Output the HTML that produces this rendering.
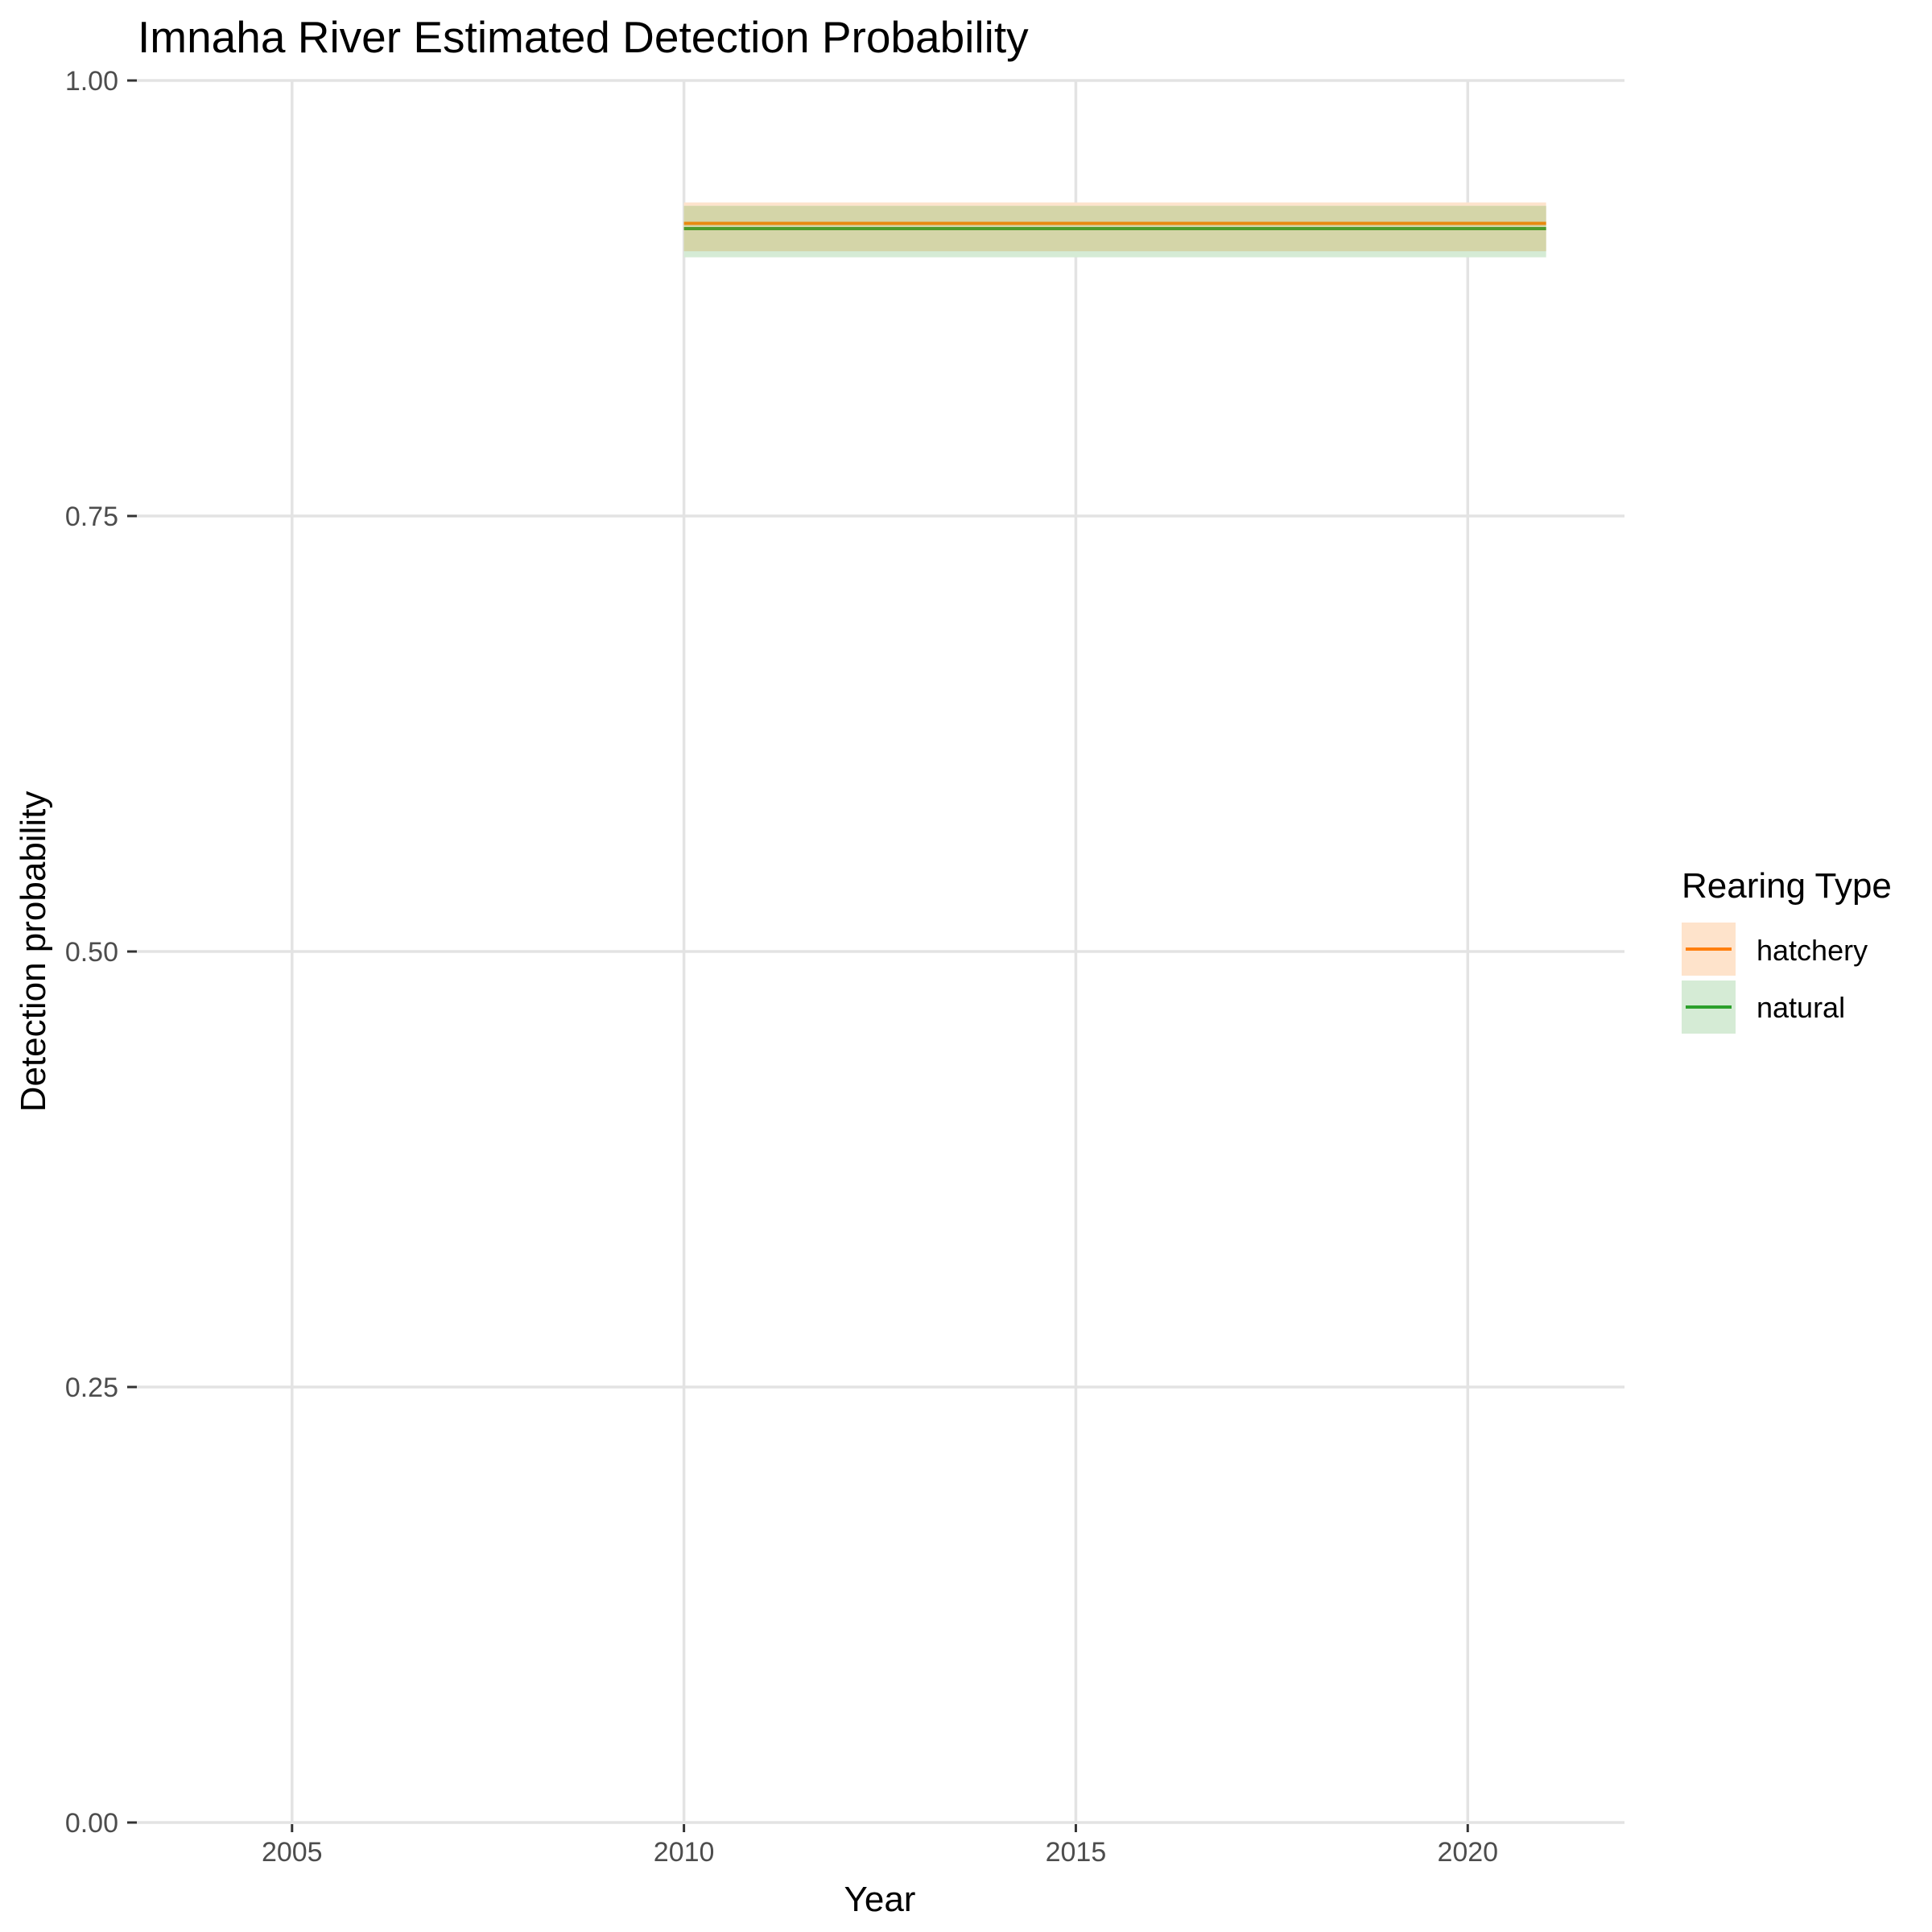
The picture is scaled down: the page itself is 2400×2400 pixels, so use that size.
<!DOCTYPE html>
<html><head><meta charset="utf-8"><style>
html,body{margin:0;padding:0;background:#fff}
svg{display:block;font-family:"Liberation Sans",sans-serif}
</style></head><body>
<svg id="chart" width="2400" height="2400" viewBox="0 0 2400 2400">
<text x="171" y="65" font-size="55" fill="#000">Imnaha River Estimated Detection Probability</text>
<g id="grid"></g>
<g id="bands"></g>
<g id="lines"></g>
<g id="axes"></g>
<text x="1093" y="2374" font-size="44" text-anchor="middle" fill="#000">Year</text>
<text transform="translate(56,1182) rotate(-90)" font-size="44" text-anchor="middle" fill="#000">Detection probability</text>
<g>
<text x="2089" y="1115" font-size="44" fill="#000">Rearing Type</text>
<g>
<rect x="2089" y="1146" width="67" height="66" fill="#fee3cb"/>
<line x1="2094" x2="2151" y1="1179" y2="1179" stroke="#ff7f0e" stroke-width="4"/>
<text x="2182" y="1193" font-size="36" fill="#000">hatchery</text>
</g>
<g>
<rect x="2089" y="1218" width="67" height="66" fill="#d5ebd5"/>
<line x1="2094" x2="2151" y1="1251" y2="1251" stroke="#2ca02c" stroke-width="4"/>
<text x="2182" y="1264" font-size="36" fill="#000">natural</text>
</g>
</g>
</svg>
<script>
const years = [2010,2011,2012,2013,2014,2015,2016,2017,2018,2019,2020,2021];
const hatcheryEst = [0.918,0.918,0.918,0.918,0.918,0.918,0.918,0.918,0.918,0.918,0.918,0.918];
const hatcheryLo = [0.902,0.902,0.902,0.902,0.902,0.902,0.902,0.902,0.902,0.902,0.902,0.902];
const hatcheryHi = [0.930,0.930,0.930,0.930,0.930,0.930,0.930,0.930,0.930,0.930,0.930,0.930];
const naturalEst = [0.915,0.915,0.915,0.915,0.915,0.915,0.915,0.915,0.915,0.915,0.915,0.915];
const naturalLo = [0.8985,0.8985,0.8985,0.8985,0.8985,0.8985,0.8985,0.8985,0.8985,0.8985,0.8985,0.8985];
const naturalHi = [0.928,0.928,0.928,0.928,0.928,0.928,0.928,0.928,0.928,0.928,0.928,0.928];
const xTicks = [2005,2010,2015,2020];
const yTicks = [0,0.25,0.5,0.75,1];
const yTickLabels = ["0.00","0.25","0.50","0.75","1.00"];

const NS="http://www.w3.org/2000/svg";
const L=170,R=2018,T=100,B=2264;
const xMin=2003.02,xMax=2022.0;
function xs(v){return L+(v-xMin)/(xMax-xMin)*(R-L);}
function ys(v){return B-v*(B-T);}
function mk(tag,attrs,parent){const e=document.createElementNS(NS,tag);for(const k in attrs)e.setAttribute(k,attrs[k]);document.getElementById(parent).appendChild(e);return e;}

xTicks.forEach((t,i)=>{
  const g=mk('line',{x1:xs(t),x2:xs(t),y1:T,y2:B,stroke:'#e3e3e3','stroke-width':3.5},'grid');
  
  
  const tk=mk('line',{x1:xs(t),x2:xs(t),y1:B+2,y2:B+12,stroke:'#333','stroke-width':3},'axes');
  
  
  const tx=mk('text',{x:xs(t),y:2312,'font-size':34,'text-anchor':'middle',fill:'#4d4d4d'},'axes');
  tx.textContent=String(t);
  
  
});
yTicks.forEach((t,i)=>{
  const g=mk('line',{x1:L,x2:R,y1:ys(t),y2:ys(t),stroke:'#e3e3e3','stroke-width':3.5},'grid');
  
  
  const tk=mk('line',{x1:158,x2:170,y1:ys(t),y2:ys(t),stroke:'#333','stroke-width':3},'axes');
  
  
  const tx=mk('text',{x:147,y:ys(t)+12,'font-size':34,'text-anchor':'end',fill:'#4d4d4d'},'axes');
  tx.textContent=yTickLabels[i];
  
  
});

function bandPath(lo,hi){
  let d='';
  years.forEach((y,i)=>{d+=(i?'L':'M')+xs(y)+','+ys(hi[i]);});
  for(let i=years.length-1;i>=0;i--)d+='L'+xs(years[i])+','+ys(lo[i]);
  return d+'Z';
}
const ovLo=years.map((y,i)=>Math.max(hatcheryLo[i],naturalLo[i]));
const ovHi=years.map((y,i)=>Math.min(hatcheryHi[i],naturalHi[i]));
const b1=mk('path',{d:bandPath(hatcheryLo,hatcheryHi),fill:'#fde3cc'},'bands');


const b2=mk('path',{d:bandPath(naturalLo,naturalHi),fill:'#d5ebd5'},'bands');


const b3=mk('path',{d:bandPath(ovLo,ovHi),fill:'#d4d5a8'},'bands');



function linePts(v){return years.map((y,i)=>xs(y)+','+ys(v[i])).join(' ');}
const l1=mk('polyline',{points:linePts(hatcheryEst),fill:'none',stroke:'#e88a10','stroke-width':4},'lines');


const l2=mk('polyline',{points:linePts(naturalEst),fill:'none',stroke:'#4f9a2a','stroke-width':4},'lines');


</script>
</body></html>
